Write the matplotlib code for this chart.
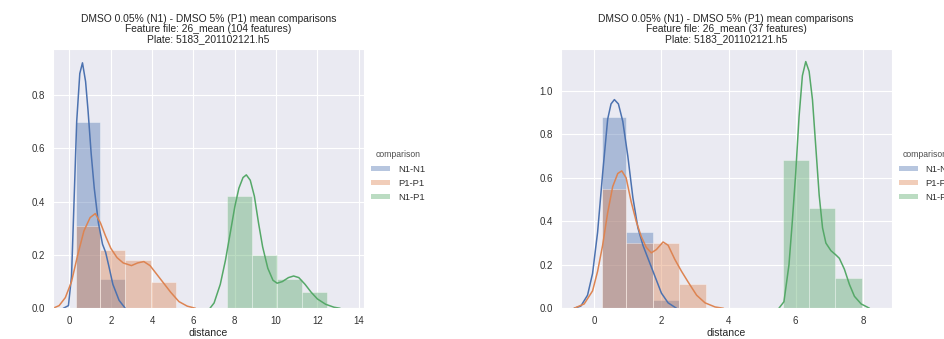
import matplotlib
matplotlib.use("Agg")
import matplotlib.pyplot as plt
from matplotlib.patches import Patch
import seaborn as sns

# series names and colours (seaborn "deep")
labels = ["N1-N1", "P1-P1", "N1-P1"]
colors = ["#4C72B0", "#DD8452", "#55A868"]

titles = [
    "DMSO 0.05% (N1) - DMSO 5% (P1) mean comparisons\nFeature file: 26_mean (104 features)\nPlate: 5183_201102121.h5",
    "DMSO 0.05% (N1) - DMSO 5% (P1) mean comparisons\nFeature file: 26_mean (37 features)\nPlate: 5183_201102121.h5",
]

# ---- left panel (104 features) ----
# histogram bin edges and densities
l_nn_edges = [0.32, 1.49, 2.67]
l_nn_hist = [0.70, 0.11]
l_pp_edges = [0.32, 1.49, 2.70, 3.93, 5.15]
l_pp_hist = [0.31, 0.22, 0.18, 0.10]
l_np_edges = [7.63, 8.84, 10.05, 11.26, 12.47]
l_np_hist = [0.42, 0.20, 0.11, 0.06]

# kde curves (x, density)
l_nn_kx = [-0.3, -0.05, 0.1, 0.2, 0.35, 0.5, 0.63, 0.78, 0.9, 1.05, 1.2, 1.4, 1.6, 1.75, 1.9, 2.1, 2.4, 2.7]
l_nn_ky = [0.0, 0.01, 0.12, 0.35, 0.70, 0.88, 0.92, 0.85, 0.74, 0.58, 0.45, 0.32, 0.24, 0.21, 0.16, 0.09, 0.03, 0.0]
l_pp_kx = [-0.8, -0.5, -0.2, 0.1, 0.4, 0.7, 1.0, 1.25, 1.5, 1.75, 2.0, 2.3, 2.6, 3.0, 3.3, 3.6, 3.9, 4.2, 4.6, 4.9, 5.3, 5.7, 6.1]
l_pp_ky = [0.0, 0.01, 0.04, 0.10, 0.20, 0.29, 0.34, 0.355, 0.32, 0.27, 0.225, 0.19, 0.17, 0.16, 0.17, 0.175, 0.16, 0.13, 0.09, 0.06, 0.025, 0.008, 0.0]
l_np_kx = [6.8, 7.0, 7.3, 7.55, 7.8, 8.0, 8.2, 8.4, 8.56, 8.75, 8.95, 9.15, 9.35, 9.6, 9.85, 10.05, 10.3, 10.6, 10.85, 11.1, 11.4, 11.7, 12.0, 12.4, 12.8, 13.1]
l_np_ky = [0.0, 0.02, 0.09, 0.18, 0.29, 0.38, 0.45, 0.49, 0.50, 0.48, 0.42, 0.32, 0.23, 0.15, 0.105, 0.094, 0.10, 0.115, 0.121, 0.115, 0.09, 0.06, 0.035, 0.015, 0.004, 0.0]

# ---- right panel (37 features) ----
r_nn_edges = [0.24, 0.96, 1.75, 2.53]
r_nn_hist = [0.88, 0.35, 0.04]
r_pp_edges = [0.24, 0.96, 1.75, 2.53, 3.33]
r_pp_hist = [0.55, 0.30, 0.30, 0.11]
r_np_edges = [5.63, 6.41, 7.18, 7.97]
r_np_hist = [0.68, 0.46, 0.14]

r_nn_kx = [-0.6, -0.4, -0.2, -0.05, 0.1, 0.25, 0.4, 0.5, 0.6, 0.72, 0.85, 1.0, 1.15, 1.3, 1.45, 1.6, 1.8, 2.0, 2.2, 2.45]
r_nn_ky = [0.0, 0.01, 0.06, 0.16, 0.35, 0.62, 0.87, 0.94, 0.96, 0.94, 0.86, 0.70, 0.51, 0.37, 0.29, 0.23, 0.15, 0.07, 0.025, 0.0]
r_pp_kx = [-0.6, -0.3, -0.05, 0.1, 0.25, 0.4, 0.55, 0.7, 0.82, 0.95, 1.1, 1.25, 1.4, 1.55, 1.7, 1.85, 2.05, 2.2, 2.4, 2.6, 2.8, 3.05, 3.3, 3.6, 3.85]
r_pp_ky = [0.0, 0.02, 0.08, 0.17, 0.29, 0.44, 0.56, 0.62, 0.632, 0.60, 0.49, 0.40, 0.33, 0.28, 0.255, 0.27, 0.305, 0.29, 0.225, 0.17, 0.12, 0.06, 0.025, 0.006, 0.0]
r_np_kx = [5.5, 5.65, 5.8, 5.9, 6.0, 6.1, 6.2, 6.3, 6.4, 6.5, 6.6, 6.7, 6.8, 6.9, 7.05, 7.2, 7.3, 7.45, 7.6, 7.75, 7.95, 8.2]
r_np_ky = [0.0, 0.03, 0.2, 0.4, 0.62, 0.88, 1.07, 1.135, 1.09, 0.96, 0.74, 0.52, 0.37, 0.30, 0.265, 0.245, 0.23, 0.18, 0.11, 0.055, 0.02, 0.0]

left_series = [
    (l_nn_edges, l_nn_hist, l_nn_kx, l_nn_ky),
    (l_pp_edges, l_pp_hist, l_pp_kx, l_pp_ky),
    (l_np_edges, l_np_hist, l_np_kx, l_np_ky),
]
right_series = [
    (r_nn_edges, r_nn_hist, r_nn_kx, r_nn_ky),
    (r_pp_edges, r_pp_hist, r_pp_kx, r_pp_ky),
    (r_np_edges, r_np_hist, r_np_kx, r_np_ky),
]

sns.set_style("darkgrid")
plt.rcParams["font.family"] = ["Liberation Sans", "DejaVu Sans"]

fig = plt.figure(figsize=(9.45, 3.39), dpi=100)
ax1 = fig.add_axes([0.0558, 0.0906, 0.3297, 0.765])
ax2 = fig.add_axes([0.5933, 0.0906, 0.3503, 0.765])


def draw_panel(ax, series, title):
    for (edges, hist, kx, ky), c in zip(series, colors):
        widths = [edges[i + 1] - edges[i] for i in range(len(hist))]
        ax.bar(edges[:-1], hist, width=widths, align="edge", color=c,
               alpha=0.4, edgecolor="white", linewidth=0.6)
        ax.plot(kx, ky, color=c, lw=1.1)
    ax.set_title(title, fontsize=7.4, color="0.15", linespacing=1.0, pad=5)
    ax.set_xlabel("distance", fontsize=7.6, color="0.15", labelpad=1.5)
    ax.tick_params(labelsize=7, colors="0.2", pad=2)


draw_panel(ax1, left_series, titles[0])
ax1.set_xlim(-0.81, 14.27)
ax1.set_ylim(0, 0.972)
ax1.set_xticks([0, 2, 4, 6, 8, 10, 12, 14])
ax1.set_yticks([0.0, 0.2, 0.4, 0.6, 0.8])

draw_panel(ax2, right_series, titles[1])
ax2.set_xlim(-1.0, 8.86)
ax2.set_ylim(0, 1.193)
ax2.set_xticks([0, 2, 4, 6, 8])
ax2.set_yticks([0.0, 0.2, 0.4, 0.6, 0.8, 1.0])

handles = [Patch(facecolor=c, alpha=0.4, edgecolor="none") for c in colors]
for xpos in [0.384, 0.942]:
    leg = fig.legend(handles, labels, title="comparison", loc="center left",
                     bbox_to_anchor=(xpos, 0.48), frameon=False, fontsize=6.8,
                     title_fontsize=6.2, handlelength=2.0, handleheight=0.5,
                     handletextpad=0.8, labelspacing=0.55)
    for t in leg.get_texts():
        t.set_color("0.2")
    leg.get_title().set_color("0.3")

fig.savefig("out.png", dpi=100)
